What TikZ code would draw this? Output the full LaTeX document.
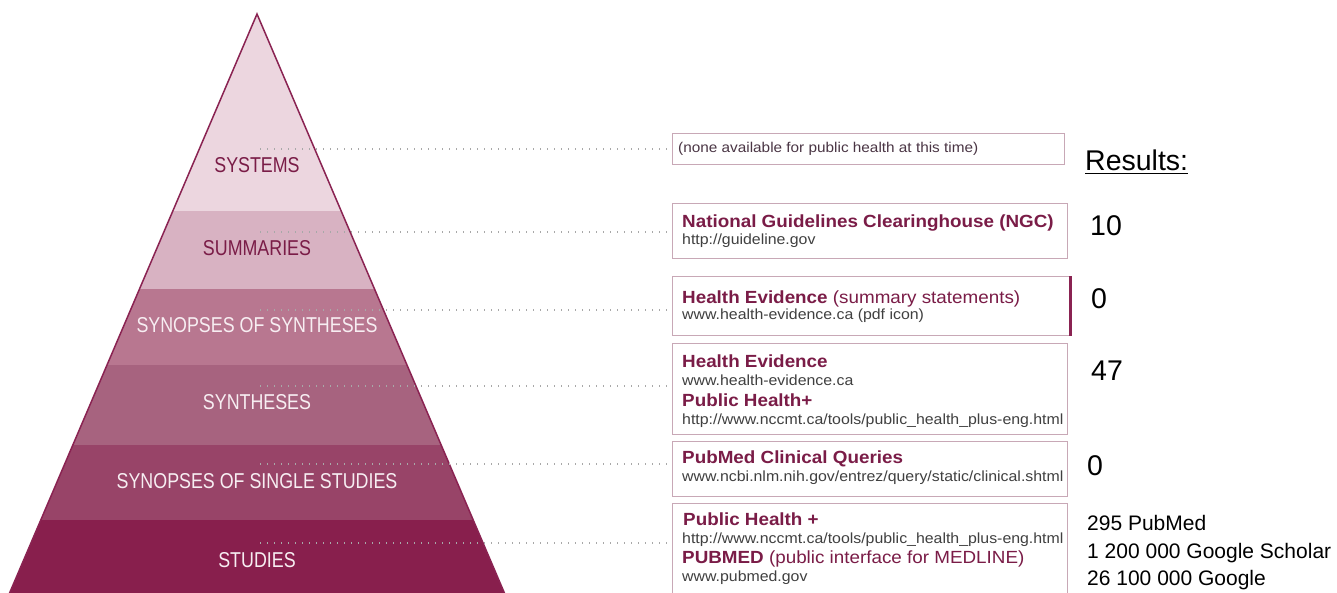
\documentclass[tikz,border=0pt]{standalone}
\usepackage{fontspec}
\setmainfont{Liberation Sans}
\newfontfamily\pyrfont[FakeStretch=0.83]{Liberation Sans}
\newfontfamily\boxfont[FakeStretch=1.07]{Liberation Sans}
\newfontfamily\urlfont[FakeStretch=1.08]{Liberation Sans}
\definecolor{bandA}{HTML}{ECD6DF}
\definecolor{bandB}{HTML}{D8B2C2}
\definecolor{bandC}{HTML}{B87790}
\definecolor{bandD}{HTML}{A7637F}
\definecolor{bandE}{HTML}{984468}
\definecolor{bandF}{HTML}{881F4D}
\definecolor{edgecol}{HTML}{8A2352}
\definecolor{maroonc}{HTML}{7A1C47}
\definecolor{boxcol}{HTML}{C8A8B6}
\definecolor{urlcol}{HTML}{404040}
\definecolor{nonecol}{HTML}{4A3544}
\definecolor{dotcol}{HTML}{A8A8A8}
\definecolor{pale}{HTML}{F7EEF2}
\begin{document}
\begin{tikzpicture}[x=1pt,y=-1pt,
 pyrlab/.style={font=\pyrfont\fontsize{21.5}{24}\selectfont, anchor=base, inner sep=0pt},
 boxframe/.style={draw=boxcol, line width=1.3pt, anchor=north west, inner sep=0pt},
 ttl/.style={font=\boxfont\fontsize{17.6}{20}\selectfont, text=maroonc, anchor=base west, inner sep=0pt},
 urltxt/.style={font=\urlfont\fontsize{14.7}{17}\selectfont, text=urlcol, anchor=base west, inner sep=0pt},
 dotcon/.style={draw=dotcol, line width=1.4pt, dash pattern=on 1.4pt off 5.6pt},
 restxt/.style={font=\fontsize{28.5}{32}\selectfont, anchor=base west, inner sep=0pt},
 smalltxt/.style={font=\fontsize{21}{24}\selectfont, anchor=base west, inner sep=0pt}]
\useasboundingbox (0,0) rectangle (1337,592);
\fill[white] (0,0) rectangle (1337,592);
% pyramid
\coordinate (apex) at (257,14);
\coordinate (bl) at (6.6,600);
\coordinate (br) at (507.4,600);
\begin{scope}
\clip (apex) -- (bl) -- (br) -- cycle;
\fill[bandA] (0,0) rectangle (520,211);
\fill[bandB] (0,211) rectangle (520,289);
\fill[bandC] (0,289) rectangle (520,365);
\fill[bandD] (0,365) rectangle (520,445);
\fill[bandE] (0,445) rectangle (520,520);
\fill[bandF] (0,520) rectangle (520,600);
\end{scope}
\draw[edgecol, line width=1.5pt, line join=miter] (bl) -- (apex) -- (br);
% boxes
\node[boxframe, minimum width=392pt, minimum height=31pt] (b1) at (672,133) {};
\node[boxframe, minimum width=395pt, minimum height=55pt] (b2) at (672,203) {};
\node[boxframe, minimum width=397pt, minimum height=59pt] (b3) at (672,276) {};
\node[boxframe, minimum width=395pt, minimum height=91pt] (b4) at (672,343) {};
\node[boxframe, minimum width=395pt, minimum height=55pt] (b5) at (672,441) {};
\node[boxframe, minimum width=395pt, minimum height=107pt] (b6) at (672,503) {};
\draw[edgecol, line width=3pt] (b3.north east) -- (b3.south east);
% dotted connectors
\coordinate (d1) at (260,149);
\coordinate (d2) at (260,232);
\coordinate (d3) at (260,310);
\coordinate (d4) at (260,386);
\coordinate (d5) at (260,464);
\coordinate (d6) at (260,543);
\draw[dotcon] (d1) -- (d1 -| b1.west);
\draw[dotcon] (d2) -- (d2 -| b2.west);
\draw[dotcon] (d3) -- (d3 -| b3.west);
\draw[dotcon] (d4) -- (d4 -| b4.west);
\draw[dotcon] (d5) -- (d5 -| b5.west);
\draw[dotcon] (d6) -- (d6 -| b6.west);
% pyramid labels
\node[pyrlab, text=maroonc] (l1) at (257,172) {SYSTEMS};
\node[pyrlab, text=maroonc] (l2) at (257,255) {SUMMARIES};
\node[pyrlab, text=pale] (l3) at (257,332) {SYNOPSES OF SYNTHESES};
\node[pyrlab, text=pale] (l4) at (257,409) {SYNTHESES};
\node[pyrlab, text=pale] (l5) at (257,488) {SYNOPSES OF SINGLE STUDIES};
\node[pyrlab, text=pale] (l6) at (257,567) {STUDIES};
% box texts
\node[urltxt, text=nonecol, font=\urlfont\fontsize{14.2}{17}\selectfont] (t1) at (678,152) {(none available for public health at this time)};
\node[ttl] (t2a) at (682,227) {\bfseries National Guidelines Clearinghouse (NGC)};
\node[urltxt] (t2b) at (682,244) {http://guideline.gov};
\node[ttl] (t3a) at (682,303) {{\bfseries Health Evidence} (summary statements)};
\node[urltxt] (t3b) at (682,319) {www.health-evidence.ca (pdf icon)};
\node[ttl] (t4a) at (682,367) {\bfseries Health Evidence};
\node[urltxt] (t4b) at (682,385) {www.health-evidence.ca};
\node[ttl] (t4c) at (682,406) {\bfseries Public Health+};
\node[urltxt] (t4d) at (682,424) {http://www.nccmt.ca/tools/public\_health\_plus-eng.html};
\node[ttl] (t5a) at (682,463) {\bfseries PubMed Clinical Queries};
\node[urltxt] (t5b) at (682,481) {www.ncbi.nlm.nih.gov/entrez/query/static/clinical.shtml};
\node[ttl] (t6a) at (683,525) {\bfseries Public Health +};
\node[urltxt] (t6b) at (682,543) {http://www.nccmt.ca/tools/public\_health\_plus-eng.html};
\node[ttl] (t6c) at (682,563) {{\bfseries PUBMED} (public interface for MEDLINE)};
\node[urltxt] (t6d) at (682,581) {www.pubmed.gov};
% results
\node[restxt] (res) at (1085,170) {Results:};
\draw[line width=1.8pt] ([yshift=-3.5pt]res.base west) -- ([yshift=-3.5pt]res.base east);
\node[restxt] (r2) at (1090,235) {10};
\node[restxt] (r3) at (1091,308) {0};
\node[restxt] (r4) at (1091,380) {47};
\node[restxt] (r5) at (1087,475) {0};
\node[smalltxt] (r6a) at (1087,530) {295 PubMed};
\node[smalltxt] (r6b) at (1087,558) {1 200 000 Google Scholar};
\node[smalltxt] (r6c) at (1087,585) {26 100 000 Google};
\end{tikzpicture}
\end{document}
